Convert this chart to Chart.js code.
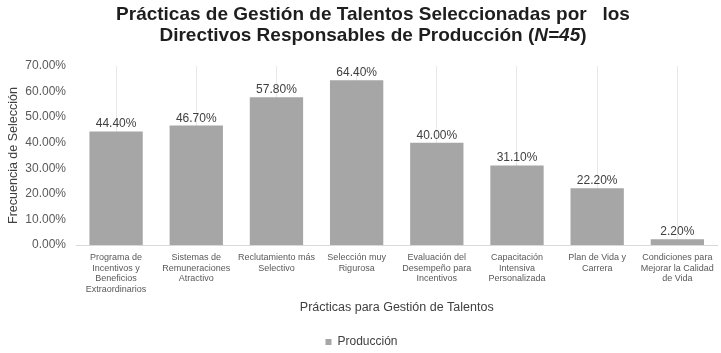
<!DOCTYPE html>
<html>
<head>
<meta charset="utf-8">
<script src="https://cdn.jsdelivr.net/npm/chart.js@4/dist/chart.umd.min.js"></script>
<style>
  html, body { margin: 0; padding: 0; background: #fff; }
  #wrap { width: 721px; height: 353px; }
</style>
</head>
<body>
<div id="wrap"><canvas id="practicas_chart"></canvas></div>
<script>
// DATA
const practicas = [
	['Programa de', 'Incentivos y', 'Beneficios', 'Extraordinarios'],
	['Sistemas de', 'Remuneraciones', 'Atractivo'],
	['Reclutamiento más', 'Selectivo'],
	['Selección muy', 'Rigurosa'],
	['Evaluación del', 'Desempeño para', 'Incentivos'],
	['Capacitación', 'Intensiva', 'Personalizada'],
	['Plan de Vida y', 'Carrera'],
	['Condiciones para', 'Mejorar la Calidad', 'de Vida']
];
const produccion = [44.4, 46.7, 57.8, 64.4, 40.0, 31.1, 22.2, 2.2];
const titleLine1 = [{ text: 'Prácticas de Gestión de Talentos Seleccionadas por   los', italic: false }];
const titleLine2 = [
	{ text: 'Directivos Responsables de Producción (', italic: false },
	{ text: 'N=45', italic: true },
	{ text: ')', italic: false }
];

const FONT = '"Liberation Sans", Arial, sans-serif';
const ctx = document.getElementById('practicas_chart').getContext('2d');

// TITLE WITH ITALIC PART
const runTitle = {
	id: 'runTitle',
	afterDraw(chart) {
		const c = chart.ctx;
		const cx = 373;
		const drawLine = (runs, y) => {
			let widths = runs.map(r => {
				c.font = (r.italic ? 'italic ' : '') + 'bold 19px ' + FONT;
				return c.measureText(r.text).width;
			});
			let x = cx - widths.reduce((a, b) => a + b, 0) / 2;
			runs.forEach((r, i) => {
				c.font = (r.italic ? 'italic ' : '') + 'bold 19px ' + FONT;
				c.fillText(r.text, x, y);
				x += widths[i];
			});
		};
		c.save();
		c.fillStyle = '#1e1e1e';
		c.textAlign = 'left';
		c.textBaseline = 'middle';
		drawLine(titleLine1, 15);
		drawLine(titleLine2, 36);
		c.restore();
	}
};

// VALUE LABELS ABOVE BARS
const valueLabels = {
	id: 'valueLabels',
	afterDatasetsDraw(chart) {
		const c = chart.ctx;
		c.save();
		c.font = '12px ' + FONT;
		c.fillStyle = '#404040';
		c.textAlign = 'center';
		c.textBaseline = 'alphabetic';
		chart.getDatasetMeta(0).data.forEach((bar, i) => {
			c.fillText(produccion[i].toFixed(2) + '%', bar.x, bar.y - 4);
		});
		c.restore();
	}
};

new Chart(ctx, {
	type: 'bar',
	data: {
		labels: practicas,
		datasets: [{
			label: 'Producción',
			data: produccion,
			backgroundColor: '#a6a6a6',
			borderWidth: 0,
			categoryPercentage: 1,
			barPercentage: 0.665
		}]
	},
	options: {
		responsive: true,
		maintainAspectRatio: false,
		animation: false,
		layout: { padding: { top: 66, left: 4, right: 2, bottom: 0 } },
		plugins: {
			title: { display: false },
			tooltip: { enabled: false },
			legend: {
				position: 'bottom',
				maxHeight: 19,
				labels: {
					boxWidth: 6,
					boxHeight: 6,
					padding: 2,
					color: '#404040',
					font: { family: FONT, size: 12 }
				}
			}
		},
		scales: {
			x: {
				grid: { offset: false, color: '#e8e8e8', drawTicks: false },
				border: { color: '#d9d9d9' },
				ticks: {
					color: '#595959',
					font: { family: FONT, size: 9 },
					padding: 7,
					maxRotation: 0,
					autoSkip: false
				},
				title: {
					display: true,
					text: 'Prácticas para Gestión de Talentos',
					color: '#404040',
					font: { family: FONT, size: 12.5 },
					padding: { top: 4, bottom: 19 }
				},
				afterFit(scale) { scale.height = 89; }
			},
			y: {
				min: 0,
				max: 70,
				grid: { display: false, drawTicks: false },
				border: { display: false },
				ticks: {
					stepSize: 10,
					color: '#595959',
					font: { family: FONT, size: 12 },
					padding: 10,
					callback: v => v.toFixed(2) + '%'
				},
				title: {
					display: true,
					text: 'Frecuencia de Selección',
					color: '#404040',
					font: { family: FONT, size: 12.5 },
					padding: { top: 2, bottom: 4 }
				},
				afterFit(scale) { scale.width = 72; }
			}
		}
	},
	plugins: [runTitle, valueLabels]
});
</script>
</body>
</html>
